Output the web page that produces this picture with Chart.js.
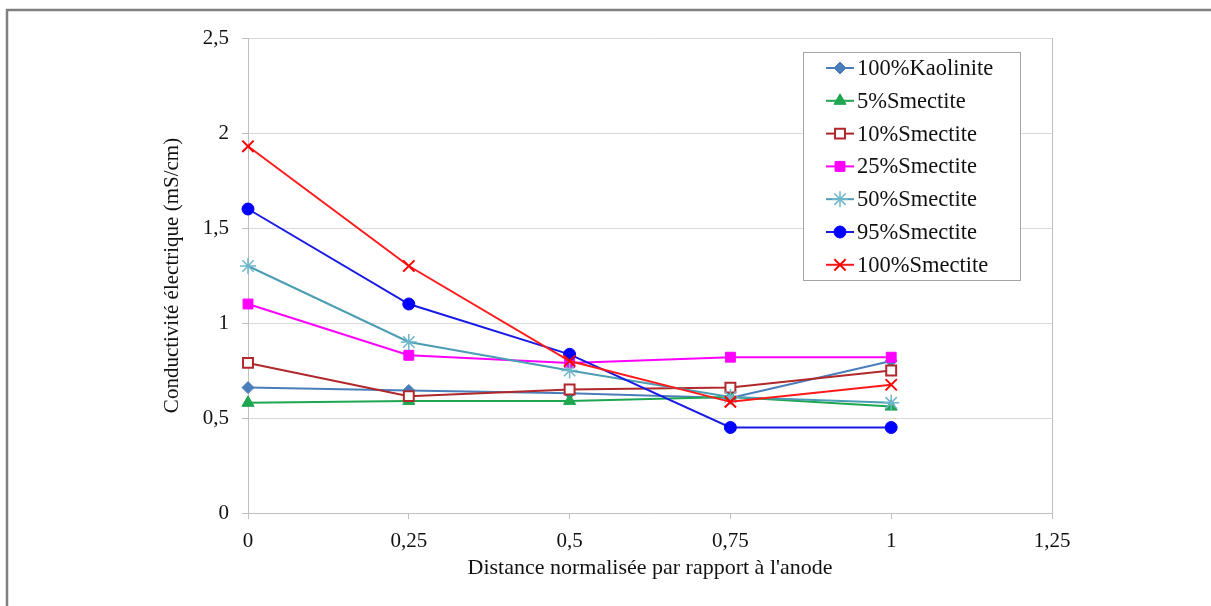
<!DOCTYPE html>
<html>
<head>
<meta charset="utf-8">
<script src="https://cdn.jsdelivr.net/npm/chart.js@4.4.0/dist/chart.umd.min.js"></script>
<style>
  html, body { margin: 0; padding: 0; background: #fff; }
  canvas { display: block; }
</style>
</head>
<body>
<canvas id="conductivityChart" width="1211" height="606"></canvas>
<script>
const distances = [0, 0.25, 0.5, 0.75, 1];
const seriesNames = ['100%Kaolinite', '5%Smectite', '10%Smectite', '25%Smectite', '50%Smectite', '95%Smectite', '100%Smectite'];
const kaolinite100 = [0.66, 0.645, 0.63, 0.605, 0.80];
const smectite5 = [0.58, 0.59, 0.59, 0.61, 0.56];
const smectite10 = [0.79, 0.615, 0.65, 0.66, 0.75];
const smectite25 = [1.10, 0.83, 0.79, 0.82, 0.82];
const smectite50 = [1.30, 0.90, 0.75, 0.61, 0.58];
const smectite95 = [1.60, 1.10, 0.835, 0.45, 0.45];
const smectite100 = [1.93, 1.30, 0.80, 0.585, 0.675];
const xTicks = [0, 0.25, 0.5, 0.75, 1, 1.25];
const yTicks = [0, 0.5, 1, 1.5, 2, 2.5];

const serif = "'Liberation Serif', 'Times New Roman', serif";
const textColor = '#111111';
const toComma = v => String(v).replace('.', ',');
const pts = values => distances.map((d, i) => ({ x: d, y: values[i] }));

const styles = [
  { line: '#4A7EBB', point: '#4A7EBB', fill: '#4A7EBB', shape: 'rectRot', r: 6, bw: 1 },
  { line: '#1FA651', point: '#1FA651', fill: '#1FA651', shape: 'triangle', r: 7, bw: 1 },
  { line: '#B0282B', point: '#B0282B', fill: '#ffffff', shape: 'rect', r: 7, bw: 2 },
  { line: '#FF00FF', point: '#FF00FF', fill: '#FF00FF', shape: 'rect', r: 7, bw: 1 },
  { line: '#4A9DB2', point: '#6FB6CC', fill: '#6FB6CC', shape: 'star', r: 8, bw: 1.5 },
  { line: '#1A1AE6', point: '#0000FF', fill: '#0000FF', shape: 'circle', r: 6, bw: 1 },
  { line: '#FF1A1A', point: '#FF0000', fill: '#FF0000', shape: 'crossRot', r: 8, bw: 2 }
];
const seriesValues = [kaolinite100, smectite5, smectite10, smectite25, smectite50, smectite95, smectite100];

const datasets = seriesValues.map((vals, i) => ({
  label: seriesNames[i],
  data: pts(vals),
  borderColor: styles[i].line,
  backgroundColor: styles[i].fill,
  pointBorderColor: styles[i].point,
  pointBackgroundColor: styles[i].fill,
  pointStyle: styles[i].shape,
  pointRadius: styles[i].r,
  pointBorderWidth: styles[i].bw,
  borderWidth: 2,
  tension: 0,
  clip: false,
  order: seriesValues.length - i
}));

// outer frame + boxed legend like the Excel original
const framePlugin = {
  id: 'frame',
  beforeDraw(chart) {
    const ctx = chart.ctx;
    ctx.save();
    ctx.strokeStyle = '#808080';
    ctx.lineWidth = 2.5;
    ctx.beginPath();
    ctx.moveTo(7, chart.height + 5);
    ctx.lineTo(7, 10);
    ctx.lineTo(chart.width + 5, 10);
    ctx.stroke();
    ctx.restore();
  }
};

const boxLegend = {
  id: 'boxLegend',
  afterDraw(chart) {
    const ctx = chart.ctx;
    const area = chart.chartArea;
    const left = area.right - 249, top = area.top + 14;
    const w = 217, h = 228, rowH = 32.8;
    ctx.save();
    ctx.fillStyle = '#fff';
    ctx.fillRect(left, top, w, h);
    ctx.strokeStyle = '#A6A6A6';
    ctx.lineWidth = 1;
    ctx.strokeRect(left + 0.5, top + 0.5, w, h);
    chart.data.datasets.forEach((ds, i) => {
      const y = top + 16 + i * rowH;
      const x0 = left + 23, x1 = left + 51, xm = (x0 + x1) / 2;
      ctx.strokeStyle = ds.borderColor;
      ctx.lineWidth = 2;
      ctx.beginPath();
      ctx.moveTo(x0, y);
      ctx.lineTo(x1, y);
      ctx.stroke();
      ctx.fillStyle = ds.pointBackgroundColor;
      ctx.strokeStyle = ds.pointBorderColor;
      ctx.lineWidth = ds.pointBorderWidth;
      Chart.helpers.drawPoint(ctx, { pointStyle: ds.pointStyle, radius: ds.pointRadius, rotation: 0, borderWidth: ds.pointBorderWidth }, xm, y);
      ctx.fillStyle = textColor;
      ctx.font = '22.5px ' + serif;
      ctx.textAlign = 'left';
      ctx.textBaseline = 'middle';
      ctx.fillText(ds.label, left + 54, y + 1);
    });
    ctx.restore();
  }
};

const chartCtx = document.getElementById('conductivityChart').getContext('2d');
new Chart(chartCtx, {
  type: 'line',
  data: { datasets: datasets },
  plugins: [framePlugin, boxLegend],
  options: {
    responsive: false,
    animation: false,
    layout: { padding: { left: 0, top: 38, right: 159, bottom: 0 } },
    plugins: {
      legend: { display: false },
      tooltip: { enabled: false }
    },
    scales: {
      x: {
        type: 'linear',
        min: 0,
        max: 1.25,
        afterBuildTicks: axis => { axis.ticks = xTicks.map(v => ({ value: v })); },
        afterFit: scale => { scale.height = 93; },
        ticks: {
          callback: toComma,
          color: textColor,
          font: { family: serif, size: 21 },
          padding: 10,
          maxRotation: 0
        },
        grid: {
          color: ctx => (ctx.tick && ctx.tick.value === 1.25 ? '#BFBFBF' : 'rgba(0,0,0,0)'),
          tickColor: '#BFBFBF',
          tickLength: 6,
          lineWidth: 1
        },
        border: { color: '#BFBFBF' },
        title: {
          display: true,
          text: "Distance normalisée par rapport à l'anode",
          color: textColor,
          font: { family: serif, size: 22 },
          padding: { top: 0, bottom: 25 }
        }
      },
      y: {
        min: 0,
        max: 2.5,
        afterBuildTicks: axis => { axis.ticks = yTicks.map(v => ({ value: v })); },
        afterFit: scale => { scale.width = 248; },
        ticks: {
          callback: toComma,
          color: textColor,
          font: { family: serif, size: 21 },
          padding: 13
        },
        grid: {
          color: '#D9D9D9',
          tickColor: '#BFBFBF',
          tickLength: 6,
          lineWidth: 1
        },
        border: { color: '#BFBFBF' },
        title: {
          display: true,
          text: 'Conductivité électrique (mS/cm)',
          color: textColor,
          font: { family: serif, size: 21 },
          padding: { top: 160, bottom: 0 }
        }
      }
    }
  }
});
</script>
</body>
</html>
